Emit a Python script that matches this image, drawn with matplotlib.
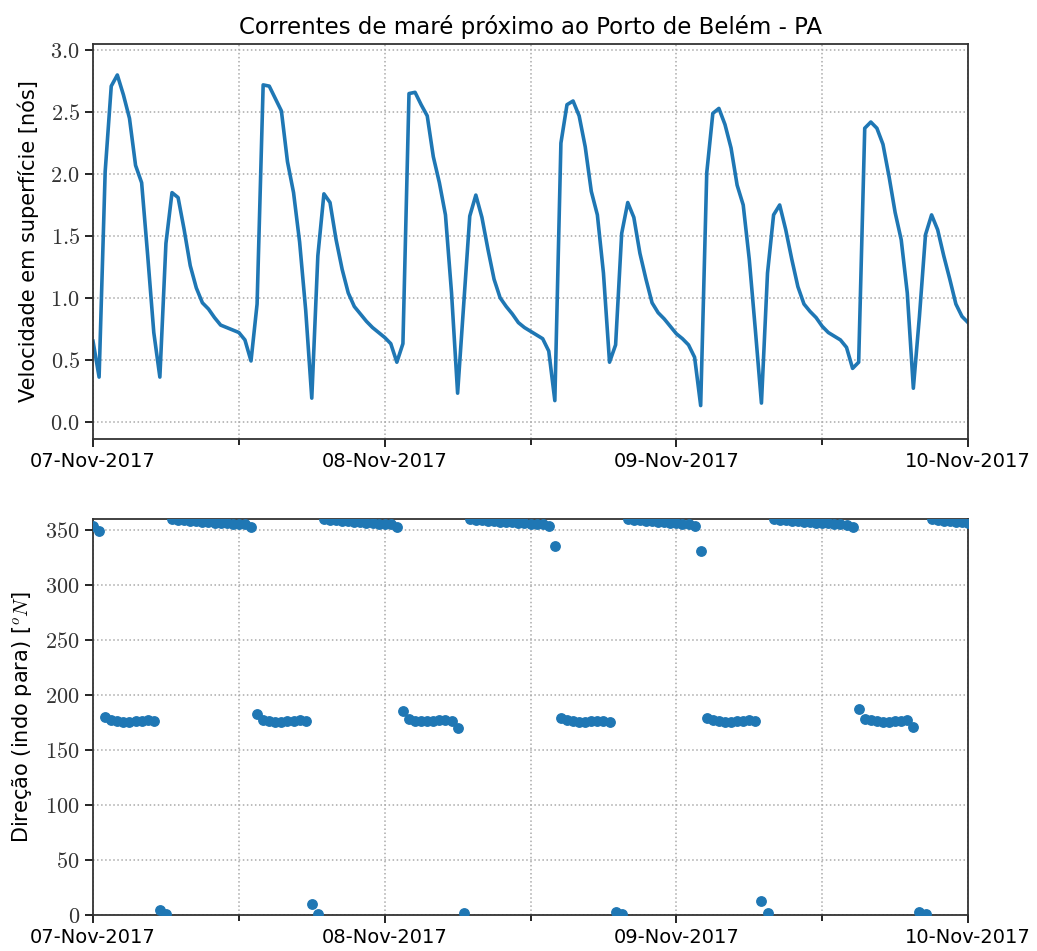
import pandas as pd
import matplotlib.pyplot as plt
import matplotlib.dates as mdates
from matplotlib.ticker import FuncFormatter, MultipleLocator

plt.rcParams['font.family'] = ['DejaVu Sans']
plt.rcParams['mathtext.fontset'] = 'cm'

# half-hourly series, 07-Nov-2017 00:00 to 10-Nov-2017 00:00
start = '2017-11-07 00:00'
n_points = 145

velocidade = [
    0.65, 0.36, 2.02, 2.71, 2.80, 2.64, 2.45, 2.07, 1.93, 1.34, 0.72, 0.36,
    1.44, 1.85, 1.81, 1.55, 1.26, 1.08, 0.96, 0.91, 0.84, 0.78, 0.76, 0.74,
    0.72, 0.66, 0.49, 0.95, 2.72, 2.71, 2.61, 2.51, 2.10, 1.85, 1.45, 0.90,
    0.19, 1.34, 1.84, 1.77, 1.47, 1.23, 1.04, 0.93, 0.87, 0.81, 0.76, 0.72,
    0.68, 0.63, 0.48, 0.63, 2.65, 2.66, 2.56, 2.47, 2.14, 1.93, 1.67, 1.04,
    0.23, 0.95, 1.66, 1.83, 1.65, 1.39, 1.15, 1.00, 0.93, 0.87, 0.80, 0.76,
    0.73, 0.70, 0.67, 0.57, 0.17, 2.25, 2.56, 2.59, 2.47, 2.22, 1.86, 1.67,
    1.20, 0.48, 0.62, 1.52, 1.77, 1.65, 1.36, 1.15, 0.96, 0.88, 0.83, 0.77,
    0.71, 0.67, 0.62, 0.52, 0.13, 2.01, 2.49, 2.53, 2.40, 2.21, 1.91, 1.75,
    1.31, 0.74, 0.15, 1.20, 1.67, 1.75, 1.55, 1.31, 1.09, 0.95, 0.89, 0.84,
    0.77, 0.72, 0.69, 0.66, 0.60, 0.43, 0.48, 2.37, 2.42, 2.37, 2.24, 1.98,
    1.69, 1.47, 1.04, 0.27, 0.85, 1.51, 1.67, 1.55, 1.34, 1.15, 0.95, 0.85,
    0.80,
]

direcao = [
    354, 349, 180, 177, 176, 175.5, 175.5, 176, 176.5, 177, 176.5, 4.5,
    0.6, 359.8, 359.3, 358.8, 358.3, 357.9, 357.5, 357.1, 356.7, 356.3, 355.9, 355.6,
    355.3, 355.0, 352.5, 183, 177.5, 176, 175.5, 175.5, 176, 176.5, 177, 176.5,
    10, 0.6, 359.8, 359.2, 358.7, 358.2, 357.8, 357.3, 356.9, 356.5, 356.1, 355.7,
    355.3, 355.0, 352.5, 185.5, 178, 176.5, 176, 176, 176.5, 177, 177, 176.5,
    170, 1.5, 359.8, 359.3, 358.9, 358.4, 358.0, 357.6, 357.2, 356.8, 356.5, 356.1,
    355.8, 355.5, 355.2, 354.0, 335, 179, 177, 176, 175.5, 175.5, 176, 176.5,
    176.5, 175, 3, 0.5, 359.8, 359.2, 358.7, 358.2, 357.7, 357.2, 356.8, 356.4,
    356.0, 355.6, 355.2, 353.5, 331, 179.5, 177, 176, 175.5, 175.5, 176, 176.5,
    177, 176.5, 13, 1.5, 359.8, 359.3, 358.8, 358.3, 357.9, 357.5, 357.1, 356.7,
    356.3, 355.9, 355.5, 355.1, 354.7, 352.5, 187, 178.5, 177, 176, 175.5, 175.5,
    176, 176.5, 177, 171, 2.4, 0.6, 359.8, 359.2, 358.6, 358.1, 357.6, 357.1,
    356.6,
]

datas = pd.date_range(start, periods=n_points, freq='30min')
df = pd.DataFrame({'vel': velocidade, 'dir': direcao}, index=datas)

fig = plt.figure(figsize=(10.37, 9.51), dpi=100)
ax1 = fig.add_axes([0.0897, 0.5384, 0.8438, 0.4153])
ax2 = fig.add_axes([0.0897, 0.0379, 0.8438, 0.4164])

ax1.plot(df.index, df['vel'], color='#1f77b4', lw=2.6)
ax2.scatter(df.index, df['dir'], color='#1f77b4', s=46, zorder=3)

ax1.set_ylim(-0.14, 3.05)
ax2.set_ylim(0, 360)
ax1.yaxis.set_major_locator(MultipleLocator(0.5))
ax2.yaxis.set_major_locator(MultipleLocator(50))
ax1.yaxis.set_major_formatter(FuncFormatter(lambda v, p: f'${v:.1f}$'))
ax2.yaxis.set_major_formatter(FuncFormatter(lambda v, p: f'${v:.0f}$'))

for ax in (ax1, ax2):
    ax.set_xlim(pd.Timestamp('2017-11-07'), pd.Timestamp('2017-11-10'))
    ax.xaxis.set_major_locator(mdates.DayLocator())
    ax.xaxis.set_minor_locator(mdates.HourLocator(byhour=[12]))
    ax.xaxis.set_major_formatter(mdates.DateFormatter('%d-%b-%Y'))
    ax.grid(True, which='both', axis='x', linestyle=':', color='#aaaaaa', lw=1.1)
    ax.grid(True, which='major', axis='y', linestyle=':', color='#aaaaaa', lw=1.1)
    ax.tick_params(axis='x', which='major', labelsize=14, length=6, width=1.2)
    ax.tick_params(axis='x', which='minor', length=4, width=1.2)
    ax.tick_params(axis='y', labelsize=16, length=6, width=1.2, labelcolor='#333333')
    for s in ax.spines.values():
        s.set_linewidth(1.3)
        s.set_color('#333333')

ax1.set_title('Correntes de maré próximo ao Porto de Belém - PA', fontsize=16.5, pad=7)
ax1.set_ylabel('Velocidade em superfície [nós]', fontsize=15, labelpad=8)
ax2.set_ylabel('Direção (indo para) [$^oN$]', fontsize=15, labelpad=8)

fig.savefig('out.png', dpi=100)
